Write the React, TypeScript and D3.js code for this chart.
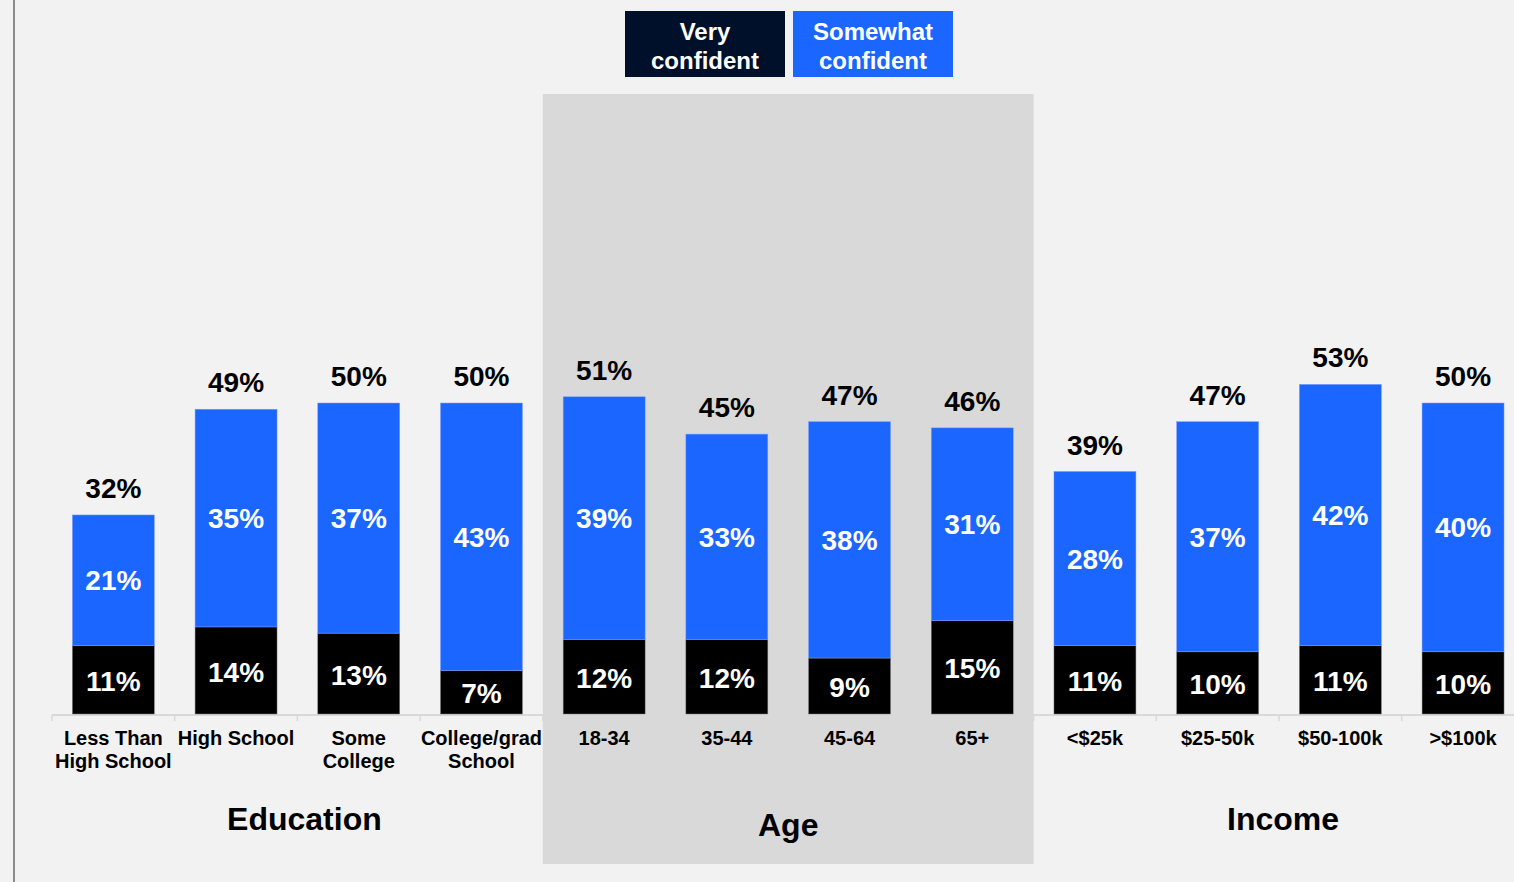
import React from "react";
import * as d3 from "d3";

const categories = [
  ["Less Than", "High School"],
  ["High School"],
  ["Some", "College"],
  ["College/grad", "School"],
  ["18-34"],
  ["35-44"],
  ["45-64"],
  ["65+"],
  ["<$25k"],
  ["$25-50k"],
  ["$50-100k"],
  [">$100k"],
];
const veryConfident = [11, 14, 13, 7, 12, 12, 9, 15, 11, 10, 11, 10];
const somewhatConfident = [21, 35, 37, 43, 39, 33, 38, 31, 28, 37, 42, 40];
const totals = [32, 49, 50, 50, 51, 45, 47, 46, 39, 47, 53, 50];
const groups = [
  { name: "Education", start: 0, end: 4 },
  { name: "Age", start: 4, end: 8 },
  { name: "Income", start: 8, end: 12 },
];
const legendItems = [
  { lines: ["Very", "confident"], color: "#000f2a" },
  { lines: ["Somewhat", "confident"], color: "#1a66ff" },
];

const W = 1514;
const H = 882;
const FONT = "'Liberation Sans', Arial, sans-serif";
const BLUE = "#1a66ff";

export default function App() {
  const x = d3
    .scaleBand<number>()
    .domain(d3.range(categories.length))
    .range([52, 52 + 122.7 * 12])
    .paddingInner(0.332)
    .paddingOuter(0.166);
  const y = d3.scaleLinear().domain([0, 50]).range([714, 403]);
  const step = x.step();
  const left = 52;
  const boundary = (i: number) => left + i * step;

  return (
    <div style={{ position: "fixed", left: 0, top: 0, width: W, height: H }}>
      <svg width={W} height={H} style={{ display: "block", fontFamily: FONT }}>
        <rect x={0} y={0} width={W} height={H} fill="#f2f2f2" />
        <line x1={14} y1={0} x2={14} y2={H} stroke="#8c8c8c" strokeWidth={2} />
        {/* Age band */}
        <rect x={boundary(4)} y={94} width={boundary(8) - boundary(4)} height={770} fill="#d9d9d9" />
        {/* axis */}
        <line x1={left} y1={715} x2={W} y2={715} stroke="#d9d9d9" strokeWidth={2} />
        {d3.range(categories.length + 1).map((i) => (
          <line key={"t" + i} x1={boundary(i)} y1={715} x2={boundary(i)} y2={721} stroke="#d9d9d9" strokeWidth={1.5} />
        ))}
        {categories.map((c, i) => {
          const bx = x(i)!;
          const bw = x.bandwidth();
          const cx = bx + bw / 2;
          const v = veryConfident[i];
          const s = somewhatConfident[i];
          const yV = y(v);
          const yS = y(v + s);
          return (
            <g key={i}>
              <rect x={bx} y={yV} width={bw} height={y(0) - yV} fill="#000000" stroke="#7f7f7f" strokeWidth={0.5} />
              <rect x={bx} y={yS} width={bw} height={yV - yS} fill={BLUE} stroke="#7f9fff" strokeWidth={0.5} />
              <text x={cx} y={(yV + y(0)) / 2 + 1} dy="0.36em" textAnchor="middle" fill="#fff" fontWeight="bold" fontSize={28}>
                {v}%
              </text>
              <text x={cx} y={(yS + yV) / 2} dy="0.36em" textAnchor="middle" fill="#fff" fontWeight="bold" fontSize={28}>
                {s}%
              </text>
              <text x={cx} y={yS - 27} dy="0.36em" textAnchor="middle" fill="#000" fontWeight="bold" fontSize={28}>
                {totals[i]}%
              </text>
              {c.map((line, k) => (
                <text key={k} x={cx} y={738 + k * 23} dy="0.36em" textAnchor="middle" fill="#000" fontWeight="bold" fontSize={20}>
                  {line}
                </text>
              ))}
            </g>
          );
        })}
        {groups.map((g, gi) => {
          const cx = (boundary(g.start) + boundary(g.end)) / 2 + (gi === 0 ? 7 : gi === 2 ? 4 : 0);
          return (
            <text key={g.name} x={cx} y={gi === 1 ? 824 : 818} dy="0.36em" textAnchor="middle" fill="#000" fontWeight="bold" fontSize={32}>
              {g.name}
            </text>
          );
        })}
        {legendItems.map((item, i) => {
          const lx = 625 + i * 168;
          return (
            <g key={i}>
              <rect x={lx} y={11} width={160} height={66} fill={item.color} />
              {item.lines.map((line, k) => (
                <text key={k} x={lx + 80} y={31 + k * 29} dy="0.36em" textAnchor="middle" fill="#fff" fontWeight="bold" fontSize={24}>
                  {line}
                </text>
              ))}
            </g>
          );
        })}
      </svg>
    </div>
  );
}
